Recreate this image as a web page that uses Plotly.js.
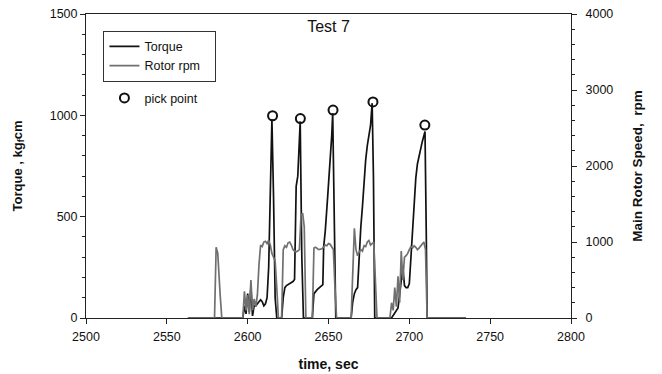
<!DOCTYPE html>
<html>
<head>
<meta charset="utf-8">
<script src="https://cdn.plot.ly/plotly-3.0.1.min.js"></script>
<style>html,body{margin:0;padding:0;background:#fff}#chart{width:662px;height:374px}</style>
</head>
<body>
<div id="chart"></div>
<script>
// Torque (kgf-cm) vs time (sec)
const torqueTime = [2563,2597,2598,2599,2600,2601,2602,2603,2604,2605,2607,2608,2609,2610,2611,2612,2613,2614,2615,2616,2617,2618,
  2621,2622,2623,2624,2626,2628,2629,2630,2631,2632.5,2633.5,2634.5,
  2640,2641,2643,2645,2646.5,2647,2648,2649.5,2651,2652,2652.6,2653.5,2654.5,
  2664,2665,2666,2667,2668,2669,2670,2671,2672,2673,2674,2675,2676,2677,2677.8,2678.6,
  2689,2693,2695,2696,2697,2698,2699,2700,2701,2702,2703,2704,2705,2706,2707,2708,2709,2709.7,2710.5,2711,2735];
const torqueVal = [0,0,60,20,120,30,150,10,60,60,80,90,80,60,70,100,250,550,980,600,100,0,
  0,100,150,160,170,180,190,650,700,970,300,0,
  0,120,140,155,165,350,430,600,770,900,1010,500,0,
  0,80,120,140,150,330,450,550,680,780,850,900,950,1060,700,0,
  0,50,200,250,160,150,150,170,300,450,570,690,760,800,840,870,900,920,400,0,0];

// Rotor rpm vs time (sec)
const rpmTime = [2563,2579.5,2580.5,2581.5,2583,2584,2597,2598,2599,2600,2601,2602,2603,2604,2605,2606,2607,2608,2609,2610,2611,2612,2613,2614,2615,2616,2617,2618,2619,
  2621,2622,2623,2624,2625,2626,2627,2628,2629,2630,2631,2632,2633,2634,2635,2636,
  2640,2641,2642,2644,2646,2648,2649,2650,2651,2652,2653,2654,2655,
  2664,2665,2666,2667,2668,2669,2670,2671,2672,2673,2674,2675,2676,2677,2678,2679,2680,
  2688,2689,2690,2691,2692,2693,2694,2695,2696,2697,2698,2699,2700,2701,2702,2703,2704,2705,2706,2707,2708,2709,2710,2711,2735];
const rpmVal = [0,0,930,850,300,0,0,350,100,300,50,500,100,250,150,300,700,960,940,1000,1010,980,1020,960,850,800,750,400,0,
  0,900,950,930,990,1000,960,900,880,870,880,900,1350,1380,1200,0,
  0,920,930,900,910,960,950,980,970,940,900,400,0,
  0,700,1180,900,820,870,900,880,950,940,1000,1020,960,980,1000,500,0,
  0,200,100,400,150,550,200,880,500,800,820,850,900,940,920,950,930,900,920,950,970,1000,900,0,0];

// Pick points (torque peaks)
const pickTime = [2615.4, 2632.6, 2652.8, 2677.5, 2709.6];
const pickVal = [998, 984, 1026, 1066, 952];

const xTicks = [2500, 2550, 2600, 2650, 2700, 2750, 2800];

const fontFam = '"Liberation Sans", Arial, sans-serif';

const traces = [
  {x: torqueTime, y: torqueVal, type: 'scatter', mode: 'lines', name: 'Torque',
   line: {color: '#111', width: 1.7}, yaxis: 'y', legend: 'legend'},
  {x: rpmTime, y: rpmVal, type: 'scatter', mode: 'lines', name: 'Rotor rpm&nbsp;&nbsp;&nbsp;',
   line: {color: '#707070', width: 1.7}, yaxis: 'y2', legend: 'legend'},
  {x: pickTime, y: pickVal, type: 'scatter', mode: 'markers', name: 'pick point',
   marker: {symbol: 'circle-open', size: 9, color: '#111', line: {width: 2, color: '#111'}},
   yaxis: 'y', legend: 'legend2'}
];

const axisCommon = {
  showline: true, linecolor: '#222', linewidth: 1, showgrid: false, zeroline: false,
  ticks: 'outside', ticklen: 5, tickcolor: '#222', tickwidth: 1,
  tickfont: {family: fontFam, size: 12.5, color: '#111'}
};

const layout = {
  width: 662, height: 374,
  margin: {l: 86, r: 91, t: 14, b: 56},
  paper_bgcolor: '#fff', plot_bgcolor: '#fff',
  font: {family: fontFam, color: '#111'},
  title: {text: 'Test 7', font: {family: fontFam, size: 16, color: '#111'},
          x: 0.5, xref: 'paper', y: 0.93, yref: 'container', xanchor: 'center', yanchor: 'middle'},
  xaxis: Object.assign({}, axisCommon, {
    range: [2500, 2800], tickvals: xTicks, mirror: true, ticklabelstandoff: 2,
    title: {text: '<b>time, sec</b>', font: {family: fontFam, size: 14, color: '#111'}, standoff: 16}
  }),
  yaxis: Object.assign({}, axisCommon, {
    range: [0, 1500], dtick: 500, tick0: 0,
    minor: {dtick: 100, ticks: 'outside', ticklen: 3, tickcolor: '#222'},
    title: {text: '<b>Torque , kg<sub>f</sub>cm</b>', font: {family: fontFam, size: 13, color: '#111'}, standoff: 24}
  }),
  yaxis2: Object.assign({}, axisCommon, {
    range: [0, 4000], dtick: 1000, tick0: 0, overlaying: 'y', side: 'right', ticklabelstandoff: 6,
    minor: {dtick: 200, ticks: 'outside', ticklen: 3, tickcolor: '#222'},
    title: {text: '<b>Main Rotor Speed,  rpm</b>', font: {family: fontFam, size: 13.5, color: '#111'}, standoff: 20}
  }),
  legend: {x: 0.036, y: 0.945, xanchor: 'left', yanchor: 'top',
           bordercolor: '#333', borderwidth: 1, bgcolor: '#fff',
           font: {family: fontFam, size: 12.5, color: '#111'}, tracegroupgap: 0, itemwidth: 30},
  legend2: {x: 0.038, y: 0.772, xanchor: 'left', yanchor: 'top',
           borderwidth: 0, bgcolor: 'rgba(0,0,0,0)',
           font: {family: fontFam, size: 12.5, color: '#111'}},
  showlegend: true
};

Plotly.newPlot('chart', traces, layout, {displayModeBar: false, staticPlot: true});
</script>
</body>
</html>
